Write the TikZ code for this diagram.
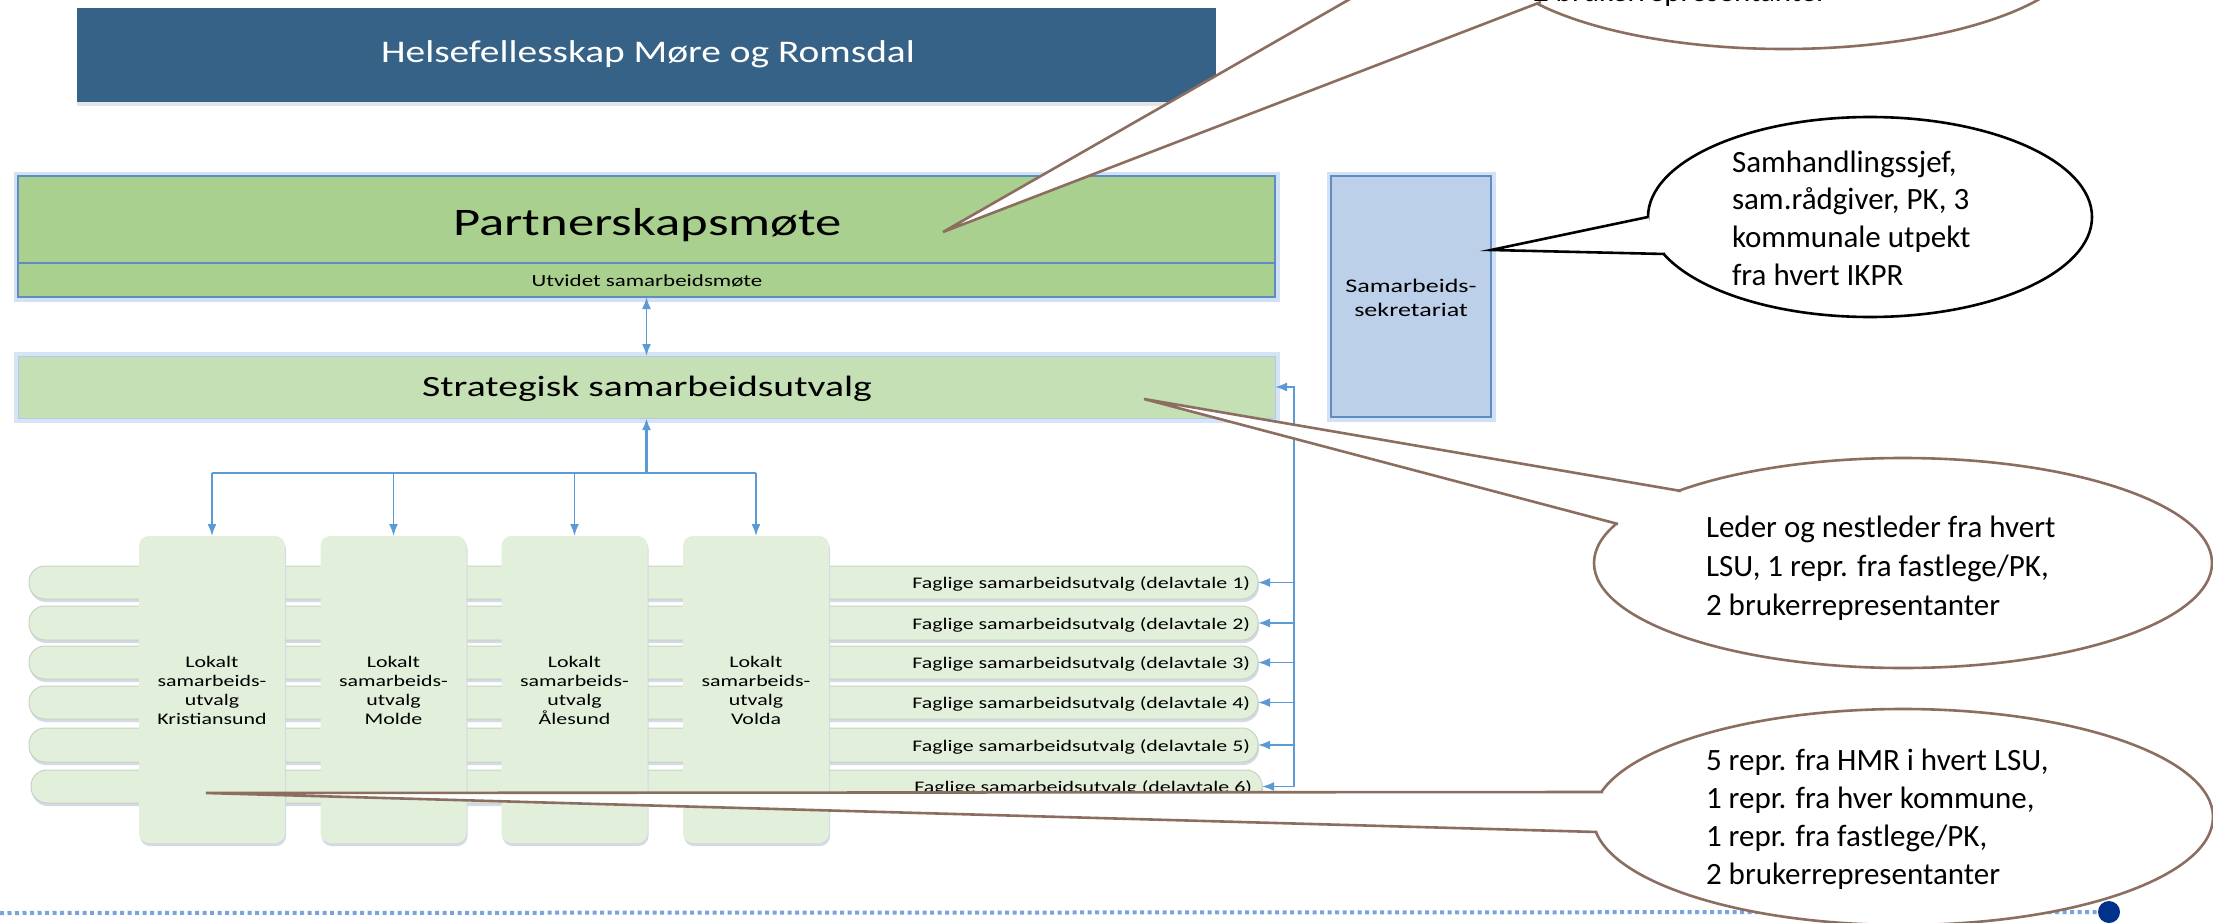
\documentclass[tikz,border=0pt]{standalone}
\usepackage{fontspec}
\setmainfont{Carlito}
\newfontfamily\dfont{Carlito}[FakeStretch=1.35]
\newfontfamily\tfont{Carlito}[FakeStretch=1.25]
\usetikzlibrary{shapes.geometric,arrows.meta,shadows}
\definecolor{titleblue}{RGB}{55,98,135}
\definecolor{pgreen}{RGB}{169,208,142}
\definecolor{sgreen}{RGB}{197,224,180}
\definecolor{lgreen}{RGB}{226,239,218}
\definecolor{barline}{RGB}{200,210,196}
\definecolor{sekblue}{RGB}{189,208,233}
\definecolor{edgeblue}{RGB}{96,140,196}
\definecolor{glowc}{RGB}{176,202,236}
\definecolor{arrowblue}{RGB}{91,155,213}
\definecolor{brownc}{RGB}{140,110,96}
\definecolor{dotblue}{RGB}{120,163,222}
\definecolor{navy}{RGB}{0,50,140}
\definecolor{shadowc}{RGB}{208,214,224}
\newcommand\stackc[1]{\begin{tabular}[t]{@{}c@{}}#1\end{tabular}}
\newcommand\stackl[1]{\begin{tabular}[t]{@{}l@{}}#1\end{tabular}}
\begin{document}
\begin{tikzpicture}[x=1pt,y=-1pt,
  every node/.style={inner sep=0pt,outer sep=0pt},
  glowbox/.style={rectangle,draw=edgeblue,line width=1.2pt,preaction={draw=glowc,line width=9pt,opacity=.55}},
  softbox/.style={rectangle,draw=glowc,line width=1pt,preaction={draw=glowc,line width=9pt,opacity=.5}},
  pill/.style={rectangle,rounded corners=16pt,fill=lgreen,draw=barline,line width=1pt,
    drop shadow={shadow xshift=1pt,shadow yshift=-3pt,fill=shadowc,opacity=.9}},
  lsubox/.style={rectangle,rounded corners=10pt,fill=lgreen,minimum width=146pt,minimum height=307pt,
    drop shadow={shadow xshift=1pt,shadow yshift=-3pt,fill=shadowc,opacity=.9}},
  conn/.style={draw=arrowblue,line width=1.8pt},
  arr/.style={-{Latex[length=12pt,width=9pt]}},
  arrboth/.style={{Latex[length=12pt,width=9pt]}-{Latex[length=12pt,width=9pt]}},
  lsutext/.style={anchor=base,font=\dfont\fontsize{16.2}{19.1}\selectfont},
  fagtext/.style={anchor=base east,font=\dfont\fontsize{16.2}{19.1}\selectfont},
  callb/.style={ellipse,draw=brownc,line width=2.6pt,fill=white},
  callk/.style={ellipse,draw=black,line width=2.6pt,fill=white},
  ptrb/.style={draw=brownc,line width=2.6pt,line join=miter},
  ptrk/.style={draw=black,line width=2.6pt,line join=miter},
  ctext/.style={anchor=base west,font=\fontsize{31}{38.3}\selectfont}
]
\useasboundingbox (0,0) rectangle (2213,923);
\clip (0,0) rectangle (2213,923);
\fill[white] (0,0) rectangle (2213,923);

% bottom dotted line and dot
\coordinate (dl) at (0,913);
\node[circle,fill=navy,minimum size=22pt] (dot) at (2109,912) {};
\draw[dotblue,line width=4pt,dash pattern=on 4pt off 3.5pt] (dl) -- (dot.west);

% title
\node[rectangle,fill=titleblue,minimum width=1139pt,minimum height=94pt,
  drop shadow={shadow xshift=0pt,shadow yshift=-4pt,fill=black!30,opacity=.35}] (title) at (646.5,55) {};
\node[anchor=base,text=white,font=\tfont\fontsize{31.5}{38}\selectfont] (titletxt) at (648,63) {Helsefellesskap Møre og Romsdal};

% Partnerskapsmote
\node[glowbox,fill=pgreen,minimum width=1257pt,minimum height=121pt] (pbox) at (646.5,236.5) {};
\coordinate (divy) at (0,263);
\draw[edgeblue,line width=1.2pt] (pbox.west |- divy) -- (pbox.east |- divy);
\node[anchor=base,font=\dfont\fontsize{39}{47}\selectfont] (pm) at (647.5,235) {Partnerskapsmøte};
\node[anchor=base,font=\dfont\fontsize{17}{20}\selectfont] (ut) at (647,286) {Utvidet samarbeidsmøte};

% Strategisk
\node[softbox,fill=sgreen,minimum width=1257pt,minimum height=62pt] (sbox) at (646.5,387) {};
\node[anchor=base,font=\dfont\fontsize{29.4}{35}\selectfont] (stxt) at (647,396) {Strategisk samarbeidsutvalg};

% Sekretariat
\node[glowbox,fill=sekblue,minimum width=160pt,minimum height=241pt] (sek) at (1411,296.5) {};
\node[anchor=base,font=\dfont\fontsize{19.3}{24}\selectfont] (sektxt) at (1411,292) {\stackc{Samarbeids-\\sekretariat}};

% arrows between P and S
\draw[conn,arrboth] (pbox.south) -- (sbox.north);

% faglige bars
\node[pill,minimum width=1229pt,minimum height=33pt] (f1) at (643.5,582.5) {};
\node[pill,minimum width=1229pt,minimum height=34pt] (f2) at (643.5,623) {};
\node[pill,minimum width=1229pt,minimum height=33pt] (f3) at (643.5,662.5) {};
\node[pill,minimum width=1229pt,minimum height=33pt] (f4) at (643.5,702.5) {};
\node[pill,minimum width=1229pt,minimum height=34pt] (f5) at (643.5,745) {};
\node[pill,minimum width=1231pt,minimum height=33pt] (f6) at (646.5,786.5) {};
\node[fagtext] (f1t) at (1250,588.5) {Faglige samarbeidsutvalg (delavtale 1)};
\node[fagtext] (f2t) at (1250,629) {Faglige samarbeidsutvalg (delavtale 2)};
\node[fagtext] (f3t) at (1250,668.5) {Faglige samarbeidsutvalg (delavtale 3)};
\node[fagtext] (f4t) at (1250,708.5) {Faglige samarbeidsutvalg (delavtale 4)};
\node[fagtext] (f5t) at (1250,751) {Faglige samarbeidsutvalg (delavtale 5)};
\node[fagtext] (f6t) at (1252,792.5) {Faglige samarbeidsutvalg (delavtale 6)};

% LSU boxes
\node[lsubox] (l1) at (212,689.5) {};
\node[lsubox] (l2) at (393.5,689.5) {};
\node[lsubox] (l3) at (574.5,689.5) {};
\node[lsubox] (l4) at (756,689.5) {};
\node[lsutext] (l1t) at (212,667) {\stackc{Lokalt\\samarbeids-\\utvalg\\Kristiansund}};
\node[lsutext] (l2t) at (393.5,667) {\stackc{Lokalt\\samarbeids-\\utvalg\\Molde}};
\node[lsutext] (l3t) at (574.5,667) {\stackc{Lokalt\\samarbeids-\\utvalg\\Ålesund}};
\node[lsutext] (l4t) at (756,667) {\stackc{Lokalt\\samarbeids-\\utvalg\\Volda}};

% tree S -> LSU
\coordinate (jn) at (646.5,473);
\draw[conn,line width=2.8pt,arr] (jn) -- (sbox.south);
\draw[conn] (l1.north |- jn) -- (l4.north |- jn);
\foreach \i in {1,2,3,4} {\draw[conn,arr] (l\i.north |- jn) -- (l\i.north);}

% rail to faglige
\coordinate (rail) at (1294,0);
\draw[conn,arr] (rail |- f6.east) -- (rail |- sbox.east) -- (sbox.east);
\foreach \i in {1,...,6} {\draw[conn,arr] (rail |- f\i.east) -- (f\i.east);}

% callout 1 (top, partly outside)
\node[callb,minimum width=600pt,minimum height=210pt] (c1) at (1784,-56) {};
\coordinate (c1tip) at (943,232);
\coordinate (c1a) at (1502,-88);
\coordinate (c1b) at (1541,2);
\fill[white] (c1tip) -- (c1a) -- (c1b) -- cycle;
\draw[ptrb] (c1a) -- (c1tip) -- (c1b);
\node[ctext] (c1txt) at (1533,2) {2 brukerrepresentanter};

% callout 2 (sekretariat)
\node[callk,minimum width=444pt,minimum height=200pt] (c2) at (1870,217) {};
\coordinate (c2tip) at (1491,250);
\coordinate (c2a) at (1648,217);
\coordinate (c2b) at (1665,254);
\fill[white] (c2tip) -- (c2a) -- (c2b) -- cycle;
\draw[ptrk] (c2a) -- (c2tip) -- (c2b);
\node[ctext,font=\fontsize{31}{37.7}\selectfont] (c2txt) at (1732,172) {\stackl{Samhandlingssjef,\\sam.rådgiver, PK, 3\\kommunale utpekt\\fra hvert IKPR}};

% callout 3 (strategisk)
\node[callb,minimum width=618pt,minimum height=210pt] (c3) at (1903,563) {};
\coordinate (c3tip) at (1144,399);
\coordinate (c3a) at (1681,491);
\coordinate (c3b) at (1618,524);
\fill[white] (c3tip) -- (c3a) -- (c3b) -- cycle;
\draw[ptrb] (c3a) -- (c3tip) -- (c3b);
\node[ctext,font=\fontsize{31}{39}\selectfont] (c3txt) at (1706,537) {\stackl{Leder og nestleder fra hvert\\LSU, 1 repr. fra fastlege/PK,\\2 brukerrepresentanter}};

% callout 4 (LSU)
\node[callb,minimum width=620pt,minimum height=216pt] (c4) at (1903,817) {};
\coordinate (c4tip) at (206,793);
\coordinate (c4a) at (1603,792);
\coordinate (c4b) at (1597,832);
\fill[white] (c4tip) -- (c4a) -- (c4b) -- cycle;
\draw[ptrb] (c4a) -- (c4tip) -- (c4b);
\node[ctext] (c4txt) at (1706,770) {\stackl{5 repr. fra HMR i hvert LSU,\\1 repr. fra hver kommune,\\1 repr. fra fastlege/PK,\\2 brukerrepresentanter}};
\end{tikzpicture}
\end{document}
